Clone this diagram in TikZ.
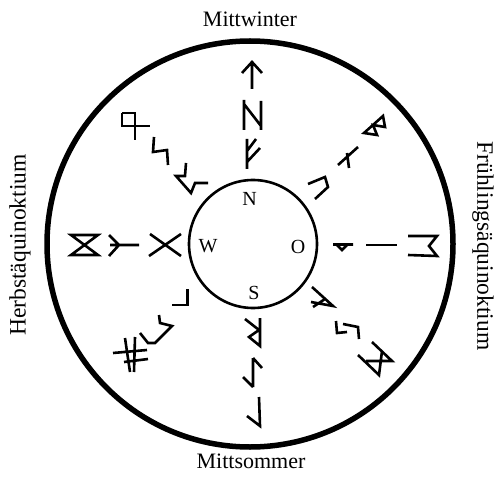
\documentclass[tikz,border=0pt]{standalone}
\usepackage{fontspec}
\setmainfont{Liberation Serif}
\begin{document}
\begin{tikzpicture}[x=1pt,y=-1pt,
  rune/.style={line width=2.6pt,line join=miter,line cap=butt},
  lbl/.style={font=\fontsize{22}{25}\selectfont,inner sep=0pt},
  vlbl/.style={font=\fontsize{23.5}{26}\selectfont,inner sep=0pt},
  dir/.style={font=\fontsize{20}{24}\selectfont,inner sep=0pt}]
\useasboundingbox (0,0) rectangle (497,478);
% circles
\draw[line width=5.5pt] (250,244) circle[radius=203];
\draw[line width=2.6pt] (253,244) circle[radius=64];
% labels
\node[lbl] (mw) at (250,19) {Mittwinter};
\node[lbl] (ms) at (251,461) {Mittsommer};
\node[vlbl,rotate=90] (hb) at (20,245) {Herbstäquinoktium};
\node[vlbl,rotate=-90] (fr) at (483,246) {Frühlingsäquinoktium};
\node[dir] (n) at (249.5,198.5) {N};
\node[dir] (w) at (208,246.5) {W};
\node[dir] (o) at (298,247) {O};
\node[dir] (s) at (254,293) {S};
% North
\draw[rune] (252,89)--(252,62) (242,73)--(252,62)--(262,73);
\draw[rune] (244,100)--(244,130) (261,101)--(261,130) (244,104)--(261,126);
\draw[rune] (247,139)--(247,169) (247,151)--(256,139) (247,162)--(260,148);
% NE
\draw[rune] (308,184)--(325,177)--(328,187)--(315,199);
\draw[rune] (338,165)--(358,147) (347,153)--(349,168);
\draw[rune] (364,133)--(383,116)--(385,127)--(373,125)--(377,135)--cycle;
% E
\draw[rune] (333,244.5)--(353,244.5) (337,245)--(342,250)--(347,245);
\draw[rune] (366,245)--(397,245);
\draw[rune] (408,236)--(437,236)--(429,246)--(437,256)--(408,255);
% SE
\draw[rune] (312,287)--(333,306)--(311,302) (325,299)--(313,307);
\draw[rune] (336,321)--(337,333)--(347,332) (343,324)--(358,327)--(359,339);
\draw[rune] (372,342)--(392,361)--(366,361) (358,355)--(379,375)--(382,351);
% S
\draw[rune] (260,318)--(260,346)--(249,337)--(259,330)--(245,319);
\draw[rune] (253,358)--(253,387) (253,358)--(262,368) (243,377)--(253,387);
\draw[rune] (259,397)--(260,426)--(247,416);
% SW
\draw[rune] (172,305)--(187.5,305)--(187.5,289);
\draw[rune] (159,315)--(160,323)--(172,326)--(155,343)--(148,343)--(140,333);
\draw[rune] (113,353)--(147,350) (124,362)--(148,359) (125,338)--(130,372) (135,337)--(134,372);
% W
\draw[rune] (149,256)--(181,234) (150,234)--(181,256);
\draw[rune] (110,245)--(139,245) (109,235)--(119,245)--(109,256);
\draw[rune] (71,235)--(98,235)--(71,255)--(98,255)--cycle;
% NW
\draw[rune] (122,113)--(135,113)--(135,140) (122,113)--(122,126)--(150,126);
\draw[rune] (154,137)--(153,152)--(167,150)--(168,165);
\draw[rune] (186,163)--(185,176)--(176,176)--(191,193)--(195,183)--(208,183);
\end{tikzpicture}
\end{document}
